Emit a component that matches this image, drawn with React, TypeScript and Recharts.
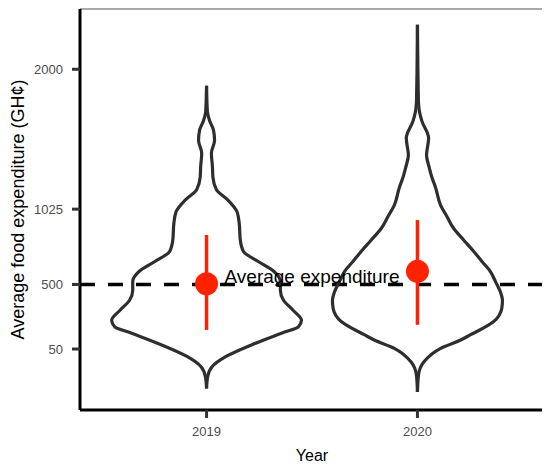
import React from 'react';
import { ComposedChart, XAxis, YAxis, Scatter, ReferenceLine, ReferenceArea } from 'recharts';

const years = ['2019', '2020'];
const yearPositions = [1, 2];
const yTicks = [50, 500, 1025, 2000];
const yDomain: [number, number] = [-375, 2420];
const xDomain: [number, number] = [0.4, 2.6];

// violin outlines: expenditure levels and density half-widths (category units)
const levels2019 = [-225, -145, -75, 0, 80, 160, 205, 250, 320, 390, 460, 520, 590, 660, 730, 810, 925, 1005, 1090, 1160, 1250, 1320, 1415, 1505, 1575, 1640, 1705, 1885];
const halfWidth2019 = [0, 0.005, 0.025, 0.095, 0.215, 0.355, 0.435, 0.45, 0.41, 0.365, 0.35, 0.35, 0.32, 0.245, 0.175, 0.16, 0.155, 0.145, 0.1, 0.047, 0.03, 0.028, 0.023, 0.038, 0.033, 0.015, 0.004, 0];

const levels2020 = [-250, -130, -40, 55, 113, 148, 240, 335, 390, 450, 520, 590, 660, 730, 810, 890, 970, 1055, 1180, 1240, 1320, 1400, 1520, 1635, 1700, 1765, 1820, 2000, 2310];
const halfWidth2020 = [0, 0.005, 0.03, 0.11, 0.205, 0.25, 0.36, 0.4, 0.403, 0.393, 0.37, 0.346, 0.306, 0.267, 0.219, 0.172, 0.141, 0.109, 0.085, 0.07, 0.055, 0.043, 0.053, 0.022, 0.01, 0.005, 0.004, 0.002, 0];

const means = [505, 592];
const lower = [183, 219];
const upper = [845, 949];
const averageExpenditure = 500;

const violinLevels = [levels2019, levels2020];
const violinWidths = [halfWidth2019, halfWidth2020];

const side = (pos: number, levels: number[], widths: number[], sign: number) =>
  levels.map((y, i) => ({ x: pos + sign * widths[i], y }));

const NoShape = () => <g />;
const MeanDot = (props: any) => <circle cx={props.cx} cy={props.cy} r={11.5} fill="#FF2200" />;

const FONT = '"Liberation Sans", Arial, Helvetica, sans-serif';
const RED = '#FF2200';
const DARK = '#2e2e2e';

export default function App() {
  const meanData = yearPositions.map((p, i) => ({ x: p, y: means[i] }));
  return (
    <div style={{ fontFamily: FONT }}>
      <ComposedChart width={542} height={461} margin={{ top: 1, right: 6, bottom: 0, left: 0 }}>
        <ReferenceArea x1={xDomain[0]} x2={xDomain[1]} y1={yDomain[0]} y2={yDomain[1]} fill="none" stroke="#555" strokeWidth={1} />
        <XAxis
          type="number"
          dataKey="x"
          domain={xDomain}
          ticks={yearPositions}
          tickFormatter={(v: number) => years[Math.round(v) - 1]}
          allowDataOverflow
          height={59}
          tickSize={8}
          tickMargin={9}
          axisLine={{ stroke: '#000', strokeWidth: 3 }}
          tickLine={{ stroke: '#333', strokeWidth: 3 }}
          tick={{ fill: '#4d4d4d', fontSize: 13, fontFamily: FONT }}
          label={{ value: 'Year', position: 'insideBottom', offset: 8, fill: '#000', fontSize: 16, fontFamily: FONT }}
        />
        <YAxis
          type="number"
          dataKey="y"
          domain={yDomain}
          ticks={yTicks}
          allowDataOverflow
          width={72}
          tickSize={8}
          tickMargin={9}
          axisLine={{ stroke: '#000', strokeWidth: 3 }}
          tickLine={{ stroke: '#333', strokeWidth: 3 }}
          tick={{ fill: '#4d4d4d', fontSize: 13, fontFamily: FONT }}
          label={{ value: 'Average food expenditure (GH¢)', angle: -90, position: 'insideLeft', offset: 10, fill: '#000', fontSize: 18, fontFamily: FONT, style: { textAnchor: 'middle' } }}
        />
        {yearPositions.map((p, i) => (
          <Scatter
            key={'vl' + i}
            data={side(p, violinLevels[i], violinWidths[i], -1)}
            line={{ stroke: DARK, strokeWidth: 3.2 }}
            lineJointType="monotoneY"
            shape={NoShape}
            isAnimationActive={false}
            legendType="none"
          />
        ))}
        {yearPositions.map((p, i) => (
          <Scatter
            key={'vr' + i}
            data={side(p, violinLevels[i], violinWidths[i], 1)}
            line={{ stroke: DARK, strokeWidth: 3.2 }}
            lineJointType="monotoneY"
            shape={NoShape}
            isAnimationActive={false}
            legendType="none"
          />
        ))}
        {yearPositions.map((p, i) => (
          <Scatter
            key={'eb' + i}
            data={[{ x: p, y: lower[i] }, { x: p, y: upper[i] }]}
            line={{ stroke: RED, strokeWidth: 3.5 }}
            shape={NoShape}
            isAnimationActive={false}
            legendType="none"
          />
        ))}
        <Scatter data={meanData} shape={MeanDot} isAnimationActive={false} legendType="none" />
        <ReferenceLine
          y={averageExpenditure}
          stroke="#000"
          strokeWidth={3.5}
          strokeDasharray="15 13"
          label={{ value: 'Average expenditure', position: 'top', offset: 1, fill: '#000', fontSize: 19, fontFamily: FONT }}
        />
      </ComposedChart>
    </div>
  );
}
